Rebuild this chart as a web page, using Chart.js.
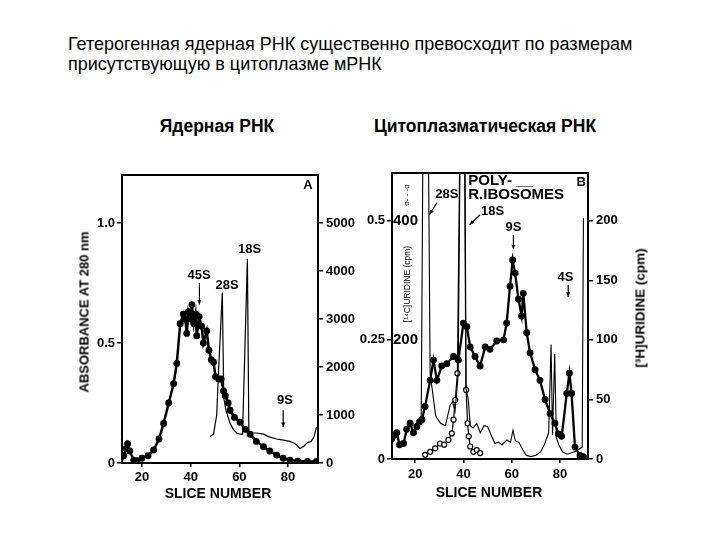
<!DOCTYPE html>
<html>
<head>
<meta charset="utf-8">
<script src="https://cdn.jsdelivr.net/npm/chart.js@4.4.1/dist/chart.umd.min.js"></script>
<style>
  body { margin: 0; background: #fff; }
  #page { position: relative; width: 720px; height: 540px; overflow: hidden;
          font-family: "Liberation Sans", Arial, sans-serif; color: #000; }
  .t { position: absolute; white-space: nowrap; }
  .head { left: 68px; font-size: 18px; }
  .sub { font-weight: bold; font-size: 17.5px; transform: translateX(-50%); }
  .axt { font-weight: bold; font-size: 13px; transform: translate(-50%, -50%) rotate(-90deg); }
  .xt { font-weight: bold; font-size: 14px; transform: translate(-50%, -50%); }
  canvas { position: absolute; }
</style>
</head>
<body>
<div id="page">
  <div class="t head" style="top:34px">Гетерогенная ядерная РНК существенно превосходит по размерам</div>
  <div class="t head" style="top:54px">присутствующую в цитоплазме мРНК</div>
  <div class="t sub" style="left:217px;top:116px">Ядерная РНК</div>
  <div class="t sub" style="left:485px;top:116px">Цитоплазматическая РНК</div>

  <canvas id="chartA" width="310" height="360" style="left:60px;top:150px"></canvas>
  <canvas id="chartB" width="330" height="360" style="left:340px;top:150px"></canvas>

  <div class="t axt" style="left:84px;top:312px">ABSORBANCE AT 280 nm</div>
  <div class="t xt" style="left:218px;top:493px">SLICE NUMBER</div>
  <div class="t xt" style="left:489px;top:492px">SLICE NUMBER</div>
  <div class="t axt" style="left:640px;top:308px;font-size:13.5px">[³H]URIDINE (cpm)</div>
  <div class="t axt" style="left:407px;top:284px;font-size:8.5px;font-weight:normal">[¹⁴C]URIDINE (cpm)</div>
  <div class="t axt" style="left:406px;top:195px;font-size:8px;font-weight:normal">o- - -o</div>
</div>

<script>
// ---- panel A : nuclear RNA ----
const sliceTicks = [20, 40, 60, 80];

const aThinSlice = [48, 49.4, 50.7, 51.3, 53, 53.6, 54.5, 56.2, 57.5, 58.9, 60.3, 61.3, 63.3, 63.9, 65.1, 67, 69.9, 72, 75.3, 78.1, 80.8, 83, 84.9, 86.5, 88, 89.5, 90.7, 91.7];
const aThinAbs = [0.11, 0.12, 0.2, 0.35, 0.71, 0.27, 0.22, 0.165, 0.14, 0.125, 0.12, 0.12, 0.85, 0.13, 0.125, 0.125, 0.12, 0.11, 0.1, 0.095, 0.09, 0.08, 0.06, 0.07, 0.085, 0.09, 0.11, 0.15];

const aDotSlice = [11.1, 12.5, 13.5, 14.1, 15, 16.6, 18, 20, 22.5, 24.8, 27, 28.9, 31, 33, 34.3, 35.7, 37, 37.8, 38.4, 39.1, 40, 40.5, 41.3, 42, 42.5, 43.5, 44.5, 45.2, 46.6, 47.5, 48.5, 49.4, 50.2, 51.5, 52.5, 53.5, 54.2, 55.4, 56.2, 58, 60.3, 62.5, 64.4, 67, 69.9, 72.5, 75.3, 78, 80.8, 84, 88, 91.7];
const aDotCpm = [100, 150, 300, 400, 250, 60, 50, 100, 150, 270, 500, 825, 1250, 1650, 2075, 2900, 3100, 3000, 2700, 3150, 3000, 3300, 2900, 3100, 2650, 3050, 2850, 2500, 2750, 2350, 2150, 2100, 1800, 1750, 1750, 1500, 1400, 1250, 1100, 950, 850, 700, 600, 450, 340, 250, 165, 100, 60, 40, 30, 30];

const aAbsTicks = [0, 0.5, 1.0];
const aCpmTicks = [0, 1000, 2000, 3000, 4000, 5000];

const aNoteText = ['A', '45S', '28S', '18S', '9S'];
const aNoteSlice = [88.2, 43.5, 55, 64.2, 78.7];
const aNoteAbs = [1.155, 0.78, 0.74, 0.89, 0.26];
const aArrows = [[43.6, 0.75, 43.6, 0.66], [78, 0.22, 78, 0.15]];

// ---- panel B : cytoplasmic RNA ----
const bDotSlice = [10.3, 11.3, 12.4, 13.5, 15.2, 16.5, 17.9, 19.3, 20.7, 21.8, 22.8, 24.1, 26.2, 27.6, 29, 31, 33.1, 35.9, 37.9, 40, 41.4, 42.8, 44.8, 46.9, 49, 51, 53.8, 56.6, 57.9, 59.3, 60.4, 61.4, 62.8, 64.1, 64.8, 66.2, 67.6, 69.7, 71.7, 73.8, 75.9, 77.9, 79.3, 80.7, 82.8, 83.9, 84.8, 86.2, 88.3, 89.7];
const bDotCpm = [17, 20, 22, 12, 13, 25, 30, 22, 27, 31, 33, 44, 66, 83, 66, 78, 80, 86, 83, 114, 111, 94, 86, 78, 94, 92, 99, 100, 114, 145, 167, 156, 134, 120, 139, 106, 89, 75, 66, 50, 38, 30, 21, 19, 55, 72, 55, 10, 3, 2];

const bThinSlice = [19.3, 22.5, 23.2, 25.5, 26.2, 28.5, 30.5, 32.5, 34.5, 35.5, 36.5, 37.8, 38.6, 40.5, 41, 42, 42.8, 44, 45.5, 47, 48.5, 50, 51.5, 53, 54.5, 56, 58, 59.5, 60.5, 61.5, 63, 64.5, 66, 68, 70, 72, 73.5, 75.3, 76.3, 76.9, 77.8, 78.5, 79.5, 81, 83, 86, 89.2, 89.7];
const bThinAbs = [0.07, 0.083, 0.65, 0.65, 0.18, 0.09, 0.075, 0.07, 0.113, 0.12, 0.1, 0.175, 0.65, 0.65, 0.15, 0.125, 0.07, 0.065, 0.075, 0.055, 0.07, 0.068, 0.05, 0.033, 0.035, 0.03, 0.04, 0.035, 0.06, 0.038, 0.035, 0.02, 0.008, 0.005, 0.008, 0.015, 0.03, 0.055, 0.24, 0.05, 0.22, 0.045, 0.03, 0.015, 0.01, 0.015, 0.025, 0.505];

const bCircSlice = [24.1, 26.2, 28.3, 30.3, 32, 33.8, 35.2, 35.9, 36.6, 37.5, 38.5, 40.6, 41.1, 41.7, 42.2, 42.8, 44.1, 45.5, 46.9];
const bCircCpm = [7, 12, 18, 26, 24, 32, 43, 66, 99, 144, 520, 520, 116, 60, 38, 21, 12, 15, 10];

const bAbsTicks = [0, 0.25, 0.5];
const bC14Ticks = [200, 400];
const bH3Ticks = [0, 50, 100, 150, 200];

const bNoteText = ['B', 'POLY- __', 'R.IBOSOMES', '28S', '18S', '9S', '4S'];
const bNoteSlice = [88.8, 42, 42, 33.1, 52.1, 60.7, 82.3];
const bNoteCpm = [232, 233, 222, 222, 208, 194, 152];
const bNoteAlign = ['center', 'left', 'left', 'center', 'center', 'center', 'center'];
const bArrows = [[29, 215, 25.9, 205], [46.9, 205, 42.5, 196.6], [60.7, 188, 60.7, 176], [83.4, 146, 83.4, 136]];

const FONT = '"Liberation Sans", Arial, sans-serif';

function pairs(xs, ys) {
  return xs.map((x, i) => ({ x: x, y: ys[i] }));
}

// box around the plotting area
const framePlugin = {
  id: 'frame',
  afterDatasetsDraw(chart) {
    const { ctx, chartArea: a } = chart;
    ctx.save();
    ctx.strokeStyle = '#000';
    ctx.lineWidth = 2;
    ctx.strokeRect(a.left, a.top, a.right - a.left, a.bottom - a.top);
    ctx.restore();
  }
};

// peak names and arrows, placed in data units
const notesPlugin = {
  id: 'notes',
  afterDraw(chart, args, opts) {
    const ctx = chart.ctx;
    const xs = chart.scales.x, ys = chart.scales[opts.axis];
    ctx.save();
    ctx.fillStyle = '#000';
    ctx.strokeStyle = '#000';
    ctx.textBaseline = 'middle';
    opts.text.forEach((t, i) => {
      const size = opts.big && opts.big.includes(t) ? 15 : 13;
      ctx.font = 'bold ' + size + 'px ' + FONT;
      ctx.textAlign = opts.align ? opts.align[i] : 'center';
      ctx.fillText(t, xs.getPixelForValue(opts.x[i]), ys.getPixelForValue(opts.y[i]));
    });
    opts.arrows.forEach(a => {
      const x1 = xs.getPixelForValue(a[0]), y1 = ys.getPixelForValue(a[1]);
      const x2 = xs.getPixelForValue(a[2]), y2 = ys.getPixelForValue(a[3]);
      ctx.lineWidth = 1.2;
      ctx.beginPath(); ctx.moveTo(x1, y1); ctx.lineTo(x2, y2); ctx.stroke();
      const ang = Math.atan2(y2 - y1, x2 - x1);
      ctx.beginPath();
      ctx.moveTo(x2, y2);
      ctx.lineTo(x2 - 5 * Math.cos(ang - 0.4), y2 - 5 * Math.sin(ang - 0.4));
      ctx.lineTo(x2 - 5 * Math.cos(ang + 0.4), y2 - 5 * Math.sin(ang + 0.4));
      ctx.closePath();
      ctx.fill();
    });
    ctx.restore();
  }
};

const tickFont = { family: FONT, size: 13, weight: 'bold' };

function axisGrid(len) {
  return { drawOnChartArea: false, drawTicks: len > 0, tickLength: len, color: '#000', lineWidth: 1.5 };
}

function setTicks(list) {
  return scale => { scale.ticks = list.map(v => ({ value: v })); };
}

// Chart A
new Chart(document.getElementById('chartA'), {
  type: 'line',
  data: {
    datasets: [
      { data: pairs(aThinSlice, aThinAbs), yAxisID: 'y', borderColor: '#000', borderWidth: 1.2, pointRadius: 0, tension: 0 },
      { data: pairs(aDotSlice, aDotCpm), yAxisID: 'y2', borderColor: '#000', backgroundColor: '#000', borderWidth: 2.5, pointRadius: 2.2, tension: 0 }
    ]
  },
  options: {
    responsive: false,
    animation: false,
    layout: { padding: { top: 25 } },
    plugins: {
      legend: { display: false },
      tooltip: { enabled: false },
      notes: { axis: 'y', text: aNoteText, x: aNoteSlice, y: aNoteAbs, arrows: aArrows }
    },
    scales: {
      x: {
        type: 'linear', min: 11.8, max: 92.3,
        afterFit: s => { s.height = 47; },
        afterBuildTicks: setTicks(sliceTicks),
        ticks: { color: '#000', font: tickFont, padding: 3, maxRotation: 0 },
        grid: axisGrid(4),
        border: { color: '#000', width: 2 }
      },
      y: {
        position: 'left', min: 0, max: 1.2,
        afterFit: s => { s.width = 62; },
        afterBuildTicks: setTicks(aAbsTicks),
        ticks: { color: '#000', font: tickFont, padding: 2, callback: v => v === 0 ? '0' : v.toFixed(1) },
        grid: axisGrid(5),
        border: { color: '#000', width: 2 }
      },
      y2: {
        position: 'right', min: 0, max: 6000,
        afterFit: s => { s.width = 52; },
        afterBuildTicks: setTicks(aCpmTicks),
        ticks: { color: '#000', font: tickFont, padding: 3, callback: v => String(v) },
        grid: axisGrid(5),
        border: { color: '#000', width: 2 }
      }
    }
  },
  plugins: [framePlugin, notesPlugin]
});

// Chart B
new Chart(document.getElementById('chartB'), {
  type: 'line',
  data: {
    datasets: [
      { data: pairs(bThinSlice, bThinAbs), yAxisID: 'yA', borderColor: '#000', borderWidth: 1.1, pointRadius: 0, tension: 0 },
      { data: pairs(bCircSlice, bCircCpm), yAxisID: 'y', borderColor: '#000', backgroundColor: '#fff', borderWidth: 1.2, pointRadius: 2.5, pointBorderWidth: 1.2, tension: 0 },
      { data: pairs(bDotSlice, bDotCpm), yAxisID: 'y2', borderColor: '#000', backgroundColor: '#000', borderWidth: 2.3, pointRadius: 2.3, tension: 0 }
    ]
  },
  options: {
    responsive: false,
    animation: false,
    layout: { padding: { top: 23 } },
    plugins: {
      legend: { display: false },
      tooltip: { enabled: false },
      notes: { axis: 'y2', text: bNoteText, x: bNoteSlice, y: bNoteCpm, align: bNoteAlign, arrows: bArrows, big: ['POLY- __', 'R.IBOSOMES'] }
    },
    scales: {
      x: {
        type: 'linear', min: 10.4, max: 91.6,
        afterFit: s => { s.height = 51; },
        afterBuildTicks: setTicks(sliceTicks),
        ticks: { color: '#000', font: tickFont, padding: 4, maxRotation: 0 },
        grid: axisGrid(4),
        border: { color: '#000', width: 2 }
      },
      yA: {
        position: 'left', weight: 1, min: 0, max: 0.6,
        afterFit: s => { s.width = 52; },
        afterBuildTicks: setTicks(bAbsTicks),
        ticks: { color: '#000', font: tickFont, padding: 2, callback: v => String(v) },
        grid: axisGrid(5),
        border: { color: '#000', width: 2 }
      },
      y: {
        position: 'left', weight: 0, min: 0, max: 480,
        afterFit: s => { s.width = 0; },
        afterBuildTicks: setTicks(bC14Ticks),
        ticks: { color: '#000', font: { family: FONT, size: 15, weight: 'bold' }, mirror: true, padding: 1 },
        grid: axisGrid(0),
        border: { display: false }
      },
      y2: {
        position: 'right', min: 0, max: 240,
        afterFit: s => { s.width = 82; },
        afterBuildTicks: setTicks(bH3Ticks),
        ticks: { color: '#000', font: tickFont, padding: 3 },
        grid: axisGrid(5),
        border: { color: '#000', width: 2 }
      }
    }
  },
  plugins: [framePlugin, notesPlugin]
});
</script>
</body>
</html>
